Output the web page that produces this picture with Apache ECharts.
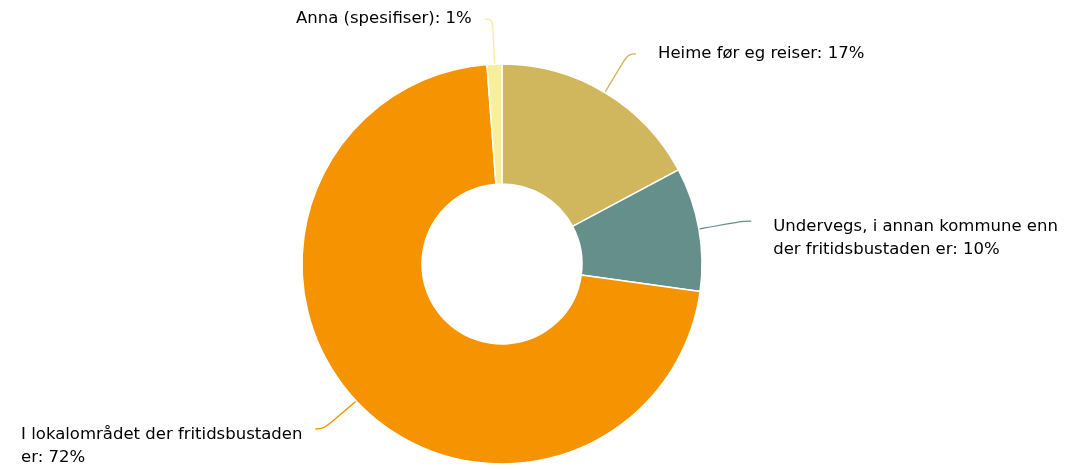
<!DOCTYPE html>
<html>
<head>
<meta charset="utf-8">
<script src="https://cdn.jsdelivr.net/npm/echarts@6/dist/echarts.min.js"></script>
<style>
  html, body { margin: 0; padding: 0; background: #fff; }
  #chart { width: 1066px; height: 470px; }
</style>
</head>
<body>
<div id="chart"></div>
<script>
  // kategoriar og verdiar (prosent)
  var categories = [
    'Heime før eg reiser',
    'Undervegs, i annan kommune enn der fritidsbustaden er',
    'I lokalområdet der fritidsbustaden er',
    'Anna (spesifiser)'
  ]
  var values = [17.2, 10.0, 71.6, 1.2]
  var colors = ['#d0b75d', '#658f8a', '#f59300', '#f7ef9a']

  var labelFont = '16.5px "DejaVu Sans"'
  var maxLabelWidth = 290

  // bryt lang tekst i linjer etter målt breidd
  var ctx = document.createElement('canvas').getContext('2d')
  ctx.font = labelFont
  function wrap(text) {
    var words = text.split(' '), lines = [], cur = ''
    words.forEach(function (w) {
      var test = cur ? cur + ' ' + w : w
      if (cur && ctx.measureText(test).width > maxLabelWidth) {
        lines.push(cur)
        cur = w
      } else {
        cur = test
      }
    })
    if (cur) lines.push(cur)
    return lines
  }

  var myChart = echarts.init(document.getElementById('chart'))

  // etikettar på høgre side står litt lenger frå streken
  var total = values.reduce(function (a, b) { return a + b }, 0)
  var cum = 0
  var data = categories.map(function (name, i) {
    var mid = (cum + values[i] / 2) / total
    cum += values[i]
    return {
      name: name,
      value: values[i],
      label: { distanceToLabelLine: mid < 0.5 ? 22 : 13 }
    }
  })

  var option = {
    color: colors,
    animation: false,
    series: [{
      type: 'pie',
      center: [502, 264],
      radius: [80, 200],
      startAngle: 90,
      clockwise: true,
      data: data,
      itemStyle: { borderColor: '#fff', borderWidth: 1.5 },
      label: {
        formatter: function (p) {
          var lines = wrap(p.name + ': ' + Math.round(p.percent) + '%')
          var txt = lines.map(function (l) { return '{t|' + l + '}' }).join('\n')
          // fleirlinjes etikett: fyrste linja ved enden av streken
          if (lines.length > 1) txt = '{s| }\n' + txt
          return txt
        },
        bleedMargin: 0,
        fontFamily: 'DejaVu Sans',
        fontSize: 16.5,
        lineHeight: 23,
        rich: {
          t: {
            fontFamily: 'DejaVu Sans',
            fontSize: 16.5,
            color: '#000',
            lineHeight: 23,
            align: 'left'
          },
          s: {
            fontSize: 10,
            lineHeight: 34,
            align: 'left'
          }
        }
      },
      labelLine: {
        show: true,
        length: 45,
        length2: 8,
        smooth: 0.4,
        lineStyle: { width: 1.4 }
      }
    }]
  }

  myChart.setOption(option, true)
</script>
</body>
</html>
